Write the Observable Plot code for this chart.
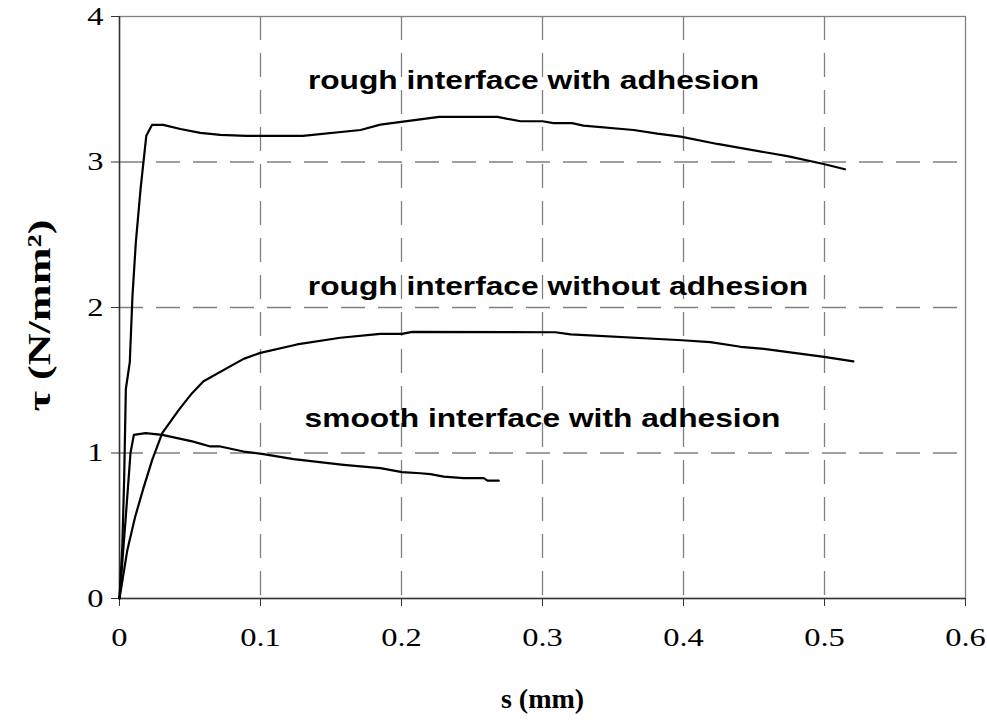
<!DOCTYPE html>
<html>
<head>
<meta charset="utf-8">
<script src="https://cdn.jsdelivr.net/npm/d3@7"></script>
<script src="https://cdn.jsdelivr.net/npm/@observablehq/plot@0.6"></script>
<style>
  html, body { margin: 0; padding: 0; background: #fff; }
  #chart { width: 987px; height: 728px; }
</style>
</head>
<body>
<div id="chart"></div>
<script>
// Series: slip s (mm) and shear stress tau (N/mm²)
const roughAdhS   = [0, 0.002, 0.0033, 0.0045, 0.0073, 0.0092, 0.0116, 0.015, 0.019, 0.023, 0.031, 0.0432, 0.0573, 0.0715, 0.09, 0.130, 0.171, 0.185, 0.2267, 0.268, 0.2844, 0.300, 0.3078, 0.321, 0.329, 0.3646, 0.3814, 0.398, 0.424, 0.4737, 0.4994, 0.5145];
const roughAdhTau = [0, 0.36, 0.82, 1.44, 1.625, 2.08, 2.45, 2.82, 3.18, 3.255, 3.255, 3.227, 3.20, 3.186, 3.18, 3.18, 3.22, 3.257, 3.31, 3.31, 3.28, 3.28, 3.267, 3.267, 3.25, 3.22, 3.195, 3.174, 3.124, 3.04, 2.986, 2.95];

const roughNoAdhS   = [0, 0.0055, 0.0111, 0.0173, 0.0232, 0.0303, 0.0422, 0.0516, 0.0596, 0.088, 0.0999, 0.1259, 0.1566, 0.185, 0.2004, 0.2075, 0.309, 0.320, 0.399, 0.419, 0.4405, 0.457, 0.4997, 0.5205];
const roughNoAdhTau = [0, 0.33, 0.562, 0.769, 0.953, 1.137, 1.298, 1.413, 1.493, 1.647, 1.688, 1.746, 1.792, 1.819, 1.819, 1.833, 1.83, 1.815, 1.775, 1.762, 1.73, 1.716, 1.661, 1.63];

const smoothAdhS   = [0, 0.0043, 0.0078, 0.0102, 0.0185, 0.0303, 0.0516, 0.0644, 0.0715, 0.088, 0.101, 0.1235, 0.159, 0.185, 0.2004, 0.2134, 0.2205, 0.230, 0.244, 0.2583, 0.261, 0.269];
const smoothAdhTau = [0, 0.54, 1.0, 1.125, 1.137, 1.125, 1.08, 1.045, 1.045, 1.01, 0.994, 0.958, 0.919, 0.896, 0.868, 0.861, 0.855, 0.838, 0.827, 0.827, 0.81, 0.81];

// Curve labels and where they sit (data coordinates)
const labelTexts = ["rough interface with adhesion", "rough interface without adhesion", "smooth interface with adhesion"];
const labelS     = [0.2936, 0.311, 0.300];
const labelTau   = [3.56, 2.14, 1.235];

// Axis ticks and titles
const xTicks = [0, 0.1, 0.2, 0.3, 0.4, 0.5, 0.6];
const yTicks = [0, 1, 2, 3, 4];
const xTitle = "s (mm)";
const yTitle = "τ (N/mm²)";

const toRows = (s, t, name) => s.map((v, i) => ({s: v, tau: t[i], series: name}));
const rows = [
  ...toRows(roughAdhS, roughAdhTau, labelTexts[0]),
  ...toRows(roughNoAdhS, roughNoAdhTau, labelTexts[1]),
  ...toRows(smoothAdhS, smoothAdhTau, labelTexts[2])
];
const labelRows = labelTexts.map((t, i) => ({text: t, s: labelS[i], tau: labelTau[i]}));

const serif = "'Liberation Serif', 'Times New Roman', serif";
const sans = "'Liberation Sans', Arial, sans-serif";
const gridColor = "#808080";

const plot = Plot.plot({
  width: 987,
  height: 728,
  marginLeft: 119,
  marginRight: 22,
  marginTop: 16,
  marginBottom: 130,
  style: {fontFamily: serif, background: "#fff", overflow: "visible"},
  x: {domain: [0, 0.6], ticks: xTicks},
  y: {domain: [0, 4], ticks: yTicks},
  marks: [
    Plot.gridX(xTicks.filter(d => d > 0 && d < 0.6), {stroke: gridColor, strokeOpacity: 1, strokeWidth: 1.3, strokeDasharray: "24,13"}),
    Plot.gridY(yTicks.filter(d => d > 0 && d < 4), {stroke: gridColor, strokeOpacity: 1, strokeWidth: 1.3, strokeDasharray: "24,13"}),
    Plot.frame({stroke: gridColor, strokeWidth: 1.3}),
    Plot.axisX(xTicks, {tickSize: 8, tickPadding: 21, fontSize: 26, stroke: "#333", fill: "#000", label: null, tickFormat: d => String(d)}),
    Plot.axisY(yTicks, {tickSize: 8, tickPadding: 8, fontSize: 26, stroke: "#333", fill: "#000", label: null, tickFormat: d => String(d)}),
    Plot.ruleX([0], {stroke: "#333", strokeWidth: 1.5}),
    Plot.ruleY([0], {stroke: "#333", strokeWidth: 1.5}),
    Plot.line(rows, {x: "s", y: "tau", z: "series", stroke: "#000", strokeWidth: 2.2, curve: "linear"}),
    Plot.text(labelRows, {x: "s", y: "tau", text: "text", fontFamily: sans, fontWeight: "bold", fontSize: 26, fill: "#000"}),
    Plot.text([xTitle], {frameAnchor: "bottom", dy: 109, text: d => d, fontFamily: serif, fontWeight: "bold", fontSize: 28, fill: "#000"}),
    Plot.text([yTitle], {frameAnchor: "left", dx: -80, dy: 8, rotate: -90, textAnchor: "middle", text: d => d, fontFamily: serif, fontWeight: "bold", fontSize: 32, fill: "#000"})
  ]
});

document.getElementById("chart").appendChild(plot);

// Widen glyphs along one direction, as in the reference rendering
function widen(sel, k) {
  sel.each(function() {
    const el = d3.select(this);
    const tr = el.attr("transform");
    if (tr) {
      el.attr("transform", tr + ` scale(${k},1)`);
    } else {
      const x = +el.attr("x") || 0, y = +el.attr("y") || 0;
      el.attr("transform", `translate(${x},${y}) scale(${k},1) translate(${-x},${-y})`);
    }
  });
}
const allText = d3.select(plot).selectAll("text");
widen(allText.filter(function() { return labelTexts.includes(this.textContent); }), 1.22);
widen(allText.filter(function() { return this.textContent === yTitle; }), 1.38);
widen(allText.filter(function() {
  const t = this.textContent;
  return xTicks.map(String).includes(t) || yTicks.map(String).includes(t);
}), 1.25);
</script>
</body>
</html>
